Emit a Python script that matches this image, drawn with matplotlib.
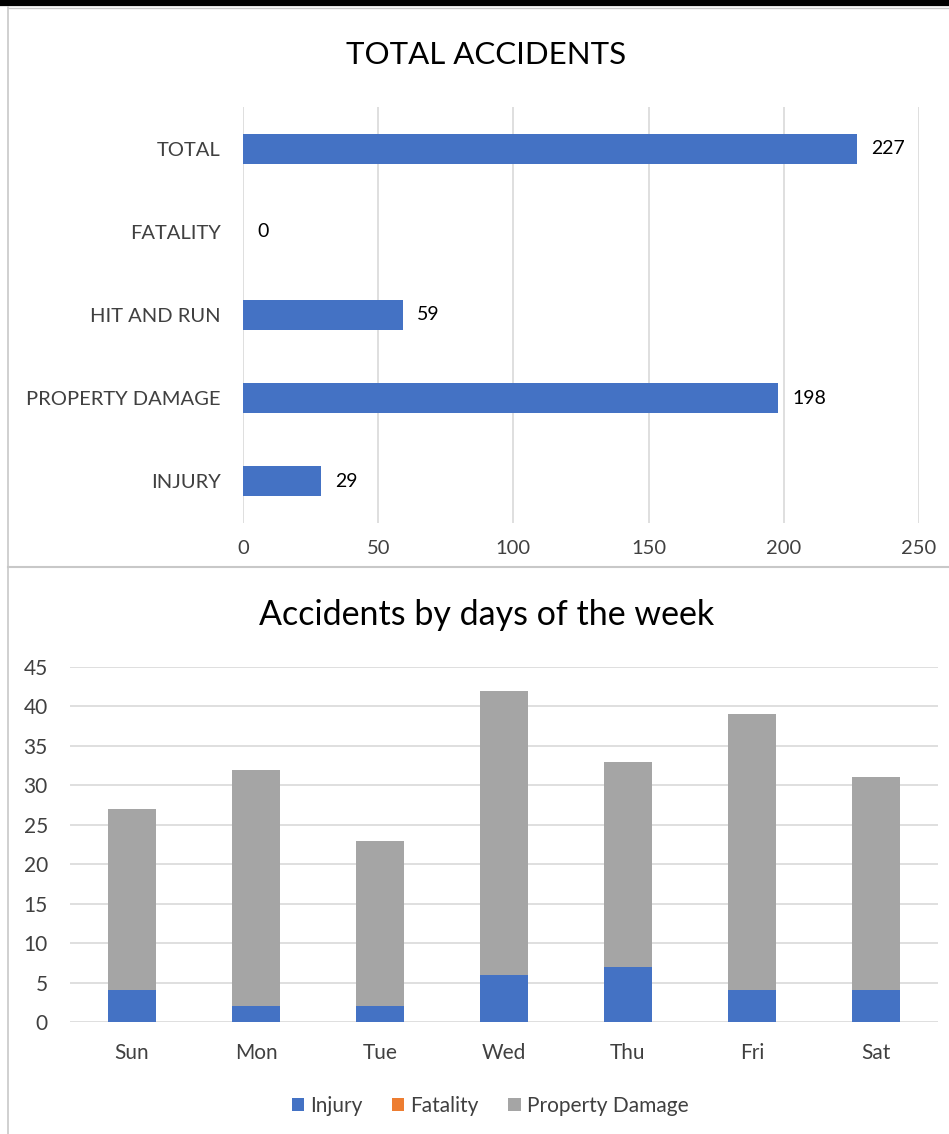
import matplotlib
matplotlib.use("Agg")
import matplotlib.pyplot as plt
import numpy as np
from matplotlib.lines import Line2D

plt.rcParams['font.family'] = ['Lato', 'DejaVu Sans']

# Top chart data
categories = ["TOTAL", "FATALITY", "HIT AND RUN", "PROPERTY DAMAGE", "INJURY"]
totals = [227, 0, 59, 198, 29]

# Bottom chart data
days = ["Sun", "Mon", "Tue", "Wed", "Thu", "Fri", "Sat"]
injury = [4, 2, 2, 6, 7, 4, 4]
fatality = [0, 0, 0, 0, 0, 0, 0]
property_damage = [23, 30, 21, 36, 26, 35, 27]

BLUE = '#4472C4'
ORANGE = '#ED7D31'
GRAY = '#A5A5A5'
GRID = '#D9D9D9'
TXT = '#404040'

W, H = 949, 1134
fig = plt.figure(figsize=(W / 100, H / 100), dpi=100)

def fx(px):
    return px / W

def fy(py):
    return 1 - py / H

# frame lines
fig.add_artist(Line2D([0, 1], [fy(3), fy(3)], color='black', lw=4.5))
fig.add_artist(Line2D([fx(8), fx(8)], [fy(7), 0], color='#C8C8C8', lw=1.2))
fig.add_artist(Line2D([fx(8), 1], [fy(7.5), fy(7.5)], color='#C8C8C8', lw=1.0))
fig.add_artist(Line2D([fx(8), 1], [fy(567), fy(567)], color='#C8C8C8', lw=1.5))

# ---- top chart ----
ax1 = fig.add_axes([fx(243), fy(523), fx(919) - fx(243), (523 - 107) / H])
y = np.arange(len(categories))
ax1.barh(y, totals, height=0.36, color=BLUE, zorder=3)
ax1.set_ylim(len(categories) - 0.5, -0.5)
ax1.set_xlim(0, 250)
ax1.set_xticks(np.arange(0, 251, 50))
ax1.set_yticks(y)
ax1.set_yticklabels(categories)
ax1.grid(axis='x', color=GRID, lw=1.2, zorder=0)
for s in ax1.spines.values():
    s.set_visible(False)
ax1.tick_params(length=0, labelsize=14.5, colors=TXT)
ax1.tick_params(axis='x', pad=12)
ax1.tick_params(axis='y', pad=16)
for yi, v in zip(y, totals):
    ax1.annotate(str(v), (v, yi), xytext=(10, 0), textcoords='offset points',
                 va='center', ha='left', fontsize=14, color='black')
fig.text(fx(486), fy(55), "TOTAL ACCIDENTS", ha='center', va='center',
         fontsize=22.5, color='black')

# ---- bottom chart ----
ax2 = fig.add_axes([fx(70), fy(1022), fx(938) - fx(70), (1022 - 667) / H])
x = np.arange(len(days))
bw = 0.39
ax2.bar(x, injury, bw, color=BLUE, label='Injury', zorder=3)
ax2.bar(x, fatality, bw, bottom=injury, color=ORANGE, label='Fatality', zorder=3)
bottom2 = np.array(injury) + np.array(fatality)
ax2.bar(x, property_damage, bw, bottom=bottom2, color=GRAY, label='Property Damage', zorder=3)
ax2.set_xlim(-0.5, len(days) - 0.5)
ax2.set_ylim(0, 45)
ax2.set_yticks(np.arange(0, 46, 5))
ax2.set_xticks(x)
ax2.set_xticklabels(days)
ax2.grid(axis='y', color=GRID, lw=1.2, zorder=0)
for s in ax2.spines.values():
    s.set_visible(False)
ax2.tick_params(length=0, labelsize=15, colors=TXT)
ax2.tick_params(axis='x', pad=15)
ax2.tick_params(axis='y', pad=16)
fig.text(fx(487), fy(615), "Accidents by days of the week", ha='center', va='center',
         fontsize=24.5, color='black')
fig.legend(loc='center', bbox_to_anchor=(fx(490), fy(1106)), ncol=3, frameon=False,
           fontsize=15, handlelength=0.6, handleheight=0.6, handletextpad=0.3,
           columnspacing=1.4, labelcolor=TXT)

fig.savefig('out.png', dpi=100, facecolor='white')
